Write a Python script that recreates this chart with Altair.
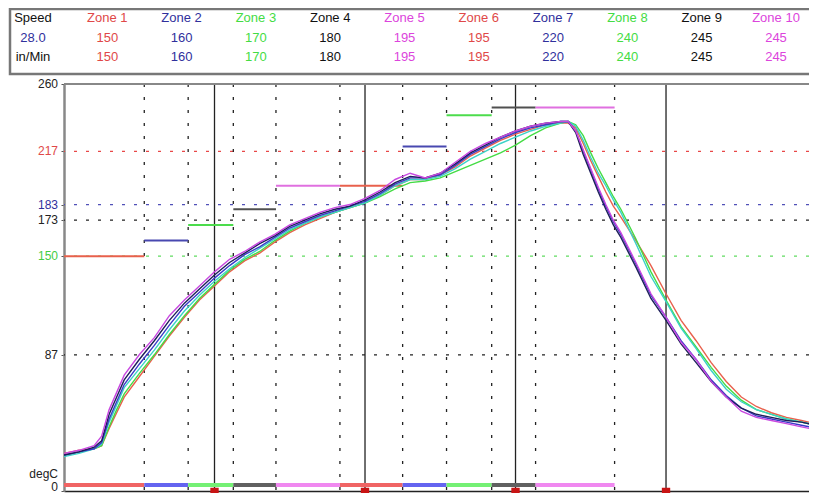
import altair as alt
import pandas as pd

# ---------------- data ----------------
times = [0, 6, 12, 15, 18, 21, 24, 30, 36, 42,
         48, 54, 60, 66, 72, 78, 84, 90, 96, 102,
         108, 114, 120, 126, 132, 138, 144, 150, 156, 162,
         168, 174, 180, 186, 192, 198, 201, 204, 207, 210,
         213, 216, 219, 222, 228, 234, 240, 246, 252, 258,
         264, 270, 276, 282, 288, 294, 300]

tc_red = [24, 26, 27, 29, 40, 50, 60, 73, 86, 99,
          111, 122, 131, 140, 147, 152, 159, 165, 170, 174,
          178, 181, 184, 189, 195, 199, 199, 202, 207, 214,
          219, 224, 228, 231, 234, 235, 235, 232, 222, 211,
          201, 191, 182, 175, 160, 144, 126, 109, 96, 82,
          70, 60, 54, 50, 47, 45, 43]
tc_green = [23, 25, 27, 29, 41, 52, 62, 75, 87, 100,
            112, 123, 132, 141, 148, 153, 160, 166, 171, 175,
            178, 181, 184, 188, 193, 197, 198, 200, 204, 208,
            212, 216, 221, 227, 232, 235, 236, 234, 227, 216,
            206, 197, 188, 180, 161, 140, 122, 105, 92, 79,
            67, 58, 52, 49, 46, 44, 42]
tc_cyan = [22, 24, 27, 30, 44, 55, 66, 78, 90, 103,
           115, 125, 134, 142, 149, 155, 161, 167, 171, 175,
           178, 181, 184, 189, 195, 199, 199, 201, 206, 212,
           217, 222, 226, 230, 233, 235, 236, 233, 224, 213,
           203, 195, 186, 178, 158, 137, 121, 104, 91, 77,
           65, 57, 52, 49, 46, 44, 42]
tc_blue = [23, 25, 27, 31, 46, 57, 68, 81, 93, 106,
           118, 127, 136, 144, 151, 156, 162, 168, 172, 176,
           179, 182, 185, 190, 196, 200, 200, 202, 208, 215,
           220, 225, 229, 232, 234, 236, 236, 230, 217, 205,
           193, 182, 172, 164, 145, 125, 111, 96, 84, 71,
           61, 53, 48, 46, 44, 42, 40]
tc_navy = [23, 25, 28, 32, 49, 60, 71, 84, 96, 109,
           120, 129, 138, 146, 152, 158, 163, 169, 173, 177,
           180, 182, 186, 191, 197, 201, 200, 203, 209, 216,
           221, 226, 230, 233, 235, 236, 236, 229, 215, 203,
           191, 180, 170, 162, 143, 123, 109, 94, 82, 70,
           60, 53, 49, 47, 45, 44, 42]
tc_magenta = [24, 26, 29, 35, 52, 63, 74, 87, 98, 112,
              122, 131, 140, 148, 153, 159, 164, 170, 174, 178,
              181, 183, 187, 192, 199, 203, 200, 203, 210, 217,
              222, 226, 230, 233, 235, 236, 236, 230, 218, 206,
              194, 183, 173, 165, 146, 126, 111, 95, 84, 70,
              60, 51, 47, 45, 43, 41, 39]

trace_values = [tc_red, tc_green, tc_cyan, tc_blue, tc_navy, tc_magenta]
trace_colors = ["#e8604c", "#44dc44", "#3cd2c8", "#3a3ac8", "#1e1e5a", "#c848e0"]

zone_names = ["Zone 1", "Zone 2", "Zone 3", "Zone 4", "Zone 5",
              "Zone 6", "Zone 7", "Zone 8", "Zone 9", "Zone 10"]
zone_setpoints = [150, 160, 170, 180, 195, 195, 220, 240, 245, 245]
zone_edges = [0, 32, 49.5, 67.5, 84.5, 110, 135, 152.5, 170.5, 188, 219.5]
zone_text_colors = ["#e04848", "#30309c", "#44dc44", "#111111", "#dc44dc"] * 2
zone_line_colors = ["#e8604c", "#4848b0", "#4cdc4c", "#505050", "#e070e0"] * 2
zone_bar_colors = ["#f06464", "#6464f0", "#74f074", "#606060", "#f088f0"] * 2

speed_label = "Speed"
speed_value = "28.0"
speed_unit = "in/Min"

marker_times = [60, 120, 180, 240]

ref_levels = [217, 183, 173, 150, 87]
ref_colors = ["#e84848", "#5050b8", "#222222", "#60dc60", "#222222"]

label_values = [260, 217, 183, 173, 150, 87, 0]
label_texts = ["260", "217", "183", "173", "150", "87", "0"]
label_colors = ["#222222", "#e04848", "#30309c", "#222222", "#44cc44", "#222222", "#222222"]
label_baselines = ["middle", "middle", "middle", "middle", "middle", "middle", "alphabetic"]

FONT = "Liberation Sans"

# ---------------- tables ----------------
xs = alt.Scale(domain=[0, 297], nice=False, zero=False)
ys = alt.Scale(domain=[0, 260], nice=False, zero=False)

zones_df = pd.DataFrame({
    "zone": zone_names,
    "start": zone_edges[:-1],
    "end": zone_edges[1:],
    "sp": zone_setpoints,
    "lc": zone_line_colors,
    "bc": zone_bar_colors,
})
edges_df = pd.DataFrame({"t": zone_edges[1:]})
markers_df = pd.DataFrame({"t": marker_times})
ref_df = pd.DataFrame({"v": ref_levels, "c": ref_colors})
lab_df = pd.DataFrame({"v": label_values, "txt": label_texts, "c": label_colors, "b": label_baselines})

layers = []

# horizontal dotted reference lines
layers.append(alt.Chart(ref_df).mark_rule(strokeDash=[3, 9], strokeWidth=1.2).encode(
    y=alt.Y("v:Q", scale=ys),
    color=alt.Color("c:N", scale=None),
))
# vertical dotted zone boundaries
layers.append(alt.Chart(edges_df).mark_rule(strokeDash=[3, 10], strokeWidth=1.3, color="#222222").encode(
    x=alt.X("t:Q", scale=xs),
))
# solid time markers
layers.append(alt.Chart(markers_df).mark_rule(strokeWidth=1.3, color="#222222").encode(
    x=alt.X("t:Q", scale=xs),
))
# zone set-point segments
layers.append(alt.Chart(zones_df).mark_rule(strokeWidth=2).encode(
    x=alt.X("start:Q", scale=xs),
    x2="end:Q",
    y=alt.Y("sp:Q", scale=ys),
    color=alt.Color("lc:N", scale=None),
))
# zone bars along the bottom
layers.append(alt.Chart(zones_df).mark_rule(strokeWidth=4).encode(
    x=alt.X("start:Q", scale=xs),
    x2="end:Q",
    y=alt.datum(3.8),
    color=alt.Color("bc:N", scale=None),
))

# temperature traces
for vals, col in zip(trace_values, trace_colors):
    df = pd.DataFrame({"t": times, "temp": vals})
    layers.append(alt.Chart(df).mark_line(color=col, strokeWidth=1.4, clip=True).encode(
        x=alt.X("t:Q", scale=xs, axis=alt.Axis(title=None, labels=False, ticks=False,
                                               domainColor="#222222", domainWidth=1.5, grid=False)),
        y=alt.Y("temp:Q", scale=ys, axis=alt.Axis(title=None, labels=False, values=label_values,
                                                  tickSize=3, tickColor="#555555",
                                                  domainColor="#888888", domainWidth=2.5, grid=False)),
    ))

# top frame line
layers.append(alt.Chart(markers_df.head(1)).mark_rule(color="#888888", strokeWidth=2).encode(
    y=alt.datum(260),
))

# red markers on the time axis
layers.append(alt.Chart(markers_df).mark_square(size=70, color="#c81414", opacity=1).encode(
    x=alt.X("t:Q", scale=xs),
    y=alt.datum(-0.6),
))

# y labels
for bl in ["middle", "alphabetic"]:
    sub = lab_df[lab_df["b"] == bl]
    layers.append(alt.Chart(sub).mark_text(align="right", baseline=bl, font=FONT, fontSize=12).encode(
        x=alt.value(-6),
        y=alt.Y("v:Q", scale=ys),
        text="txt:N",
        color=alt.Color("c:N", scale=None),
    ))
layers.append(alt.Chart(markers_df.head(1)).mark_text(align="right", baseline="middle", font=FONT,
                                                      fontSize=12, color="#222222", text="degC").encode(
    x=alt.value(-6),
    y=alt.datum(11),
))

main = alt.layer(*layers)

# ---------------- header table ----------------
cols = ["c0"] + [f"c{i+1}" for i in range(10)]
rows = ["r1", "r2", "r3"]
hdr_col, hdr_row, hdr_txt, hdr_color = [], [], [], []
hdr_col += ["c0"] * 3
hdr_row += rows
hdr_txt += [speed_label, speed_value, speed_unit]
hdr_color += ["#111111", "#30309c", "#111111"]
for i, (zn, sp) in enumerate(zip(zone_names, zone_setpoints)):
    hdr_col += [cols[i + 1]] * 3
    hdr_row += rows
    hdr_txt += [zn, str(sp), str(sp)]
    hdr_color += [zone_text_colors[i]] * 3
hdr_df = pd.DataFrame({"col": hdr_col, "row": hdr_row, "txt": hdr_txt, "c": hdr_color})

box = alt.Chart(markers_df.head(1)).mark_rect(fill="white", stroke="#777777", strokeWidth=2.5).encode(
    x=alt.value(-54), x2=alt.value(760), y=alt.value(-75), y2=alt.value(-10),
)
hdr_text = alt.Chart(hdr_df).mark_text(align="center", baseline="middle", font=FONT, fontSize=13).encode(
    x=alt.X("col:N", scale=alt.Scale(type="point", domain=cols, range=[-31, 712], padding=0), axis=None),
    y=alt.Y("row:N", scale=alt.Scale(type="point", domain=rows, range=[-66, -27], padding=0), axis=None),
    text="txt:N",
    color=alt.Color("c:N", scale=None),
)
header = alt.layer(box, hdr_text)

chart = alt.layer(main, header).resolve_scale(
    x="independent", y="independent", color="independent"
).properties(
    width=745, height=407,
    padding={"left": 56, "top": 76, "right": 0, "bottom": 2},
    autosize=alt.AutoSizeParams(type="none"),
    background="white",
).configure_view(stroke=None)

chart.save("out.html", embed_options={"renderer": "svg", "actions": False})
